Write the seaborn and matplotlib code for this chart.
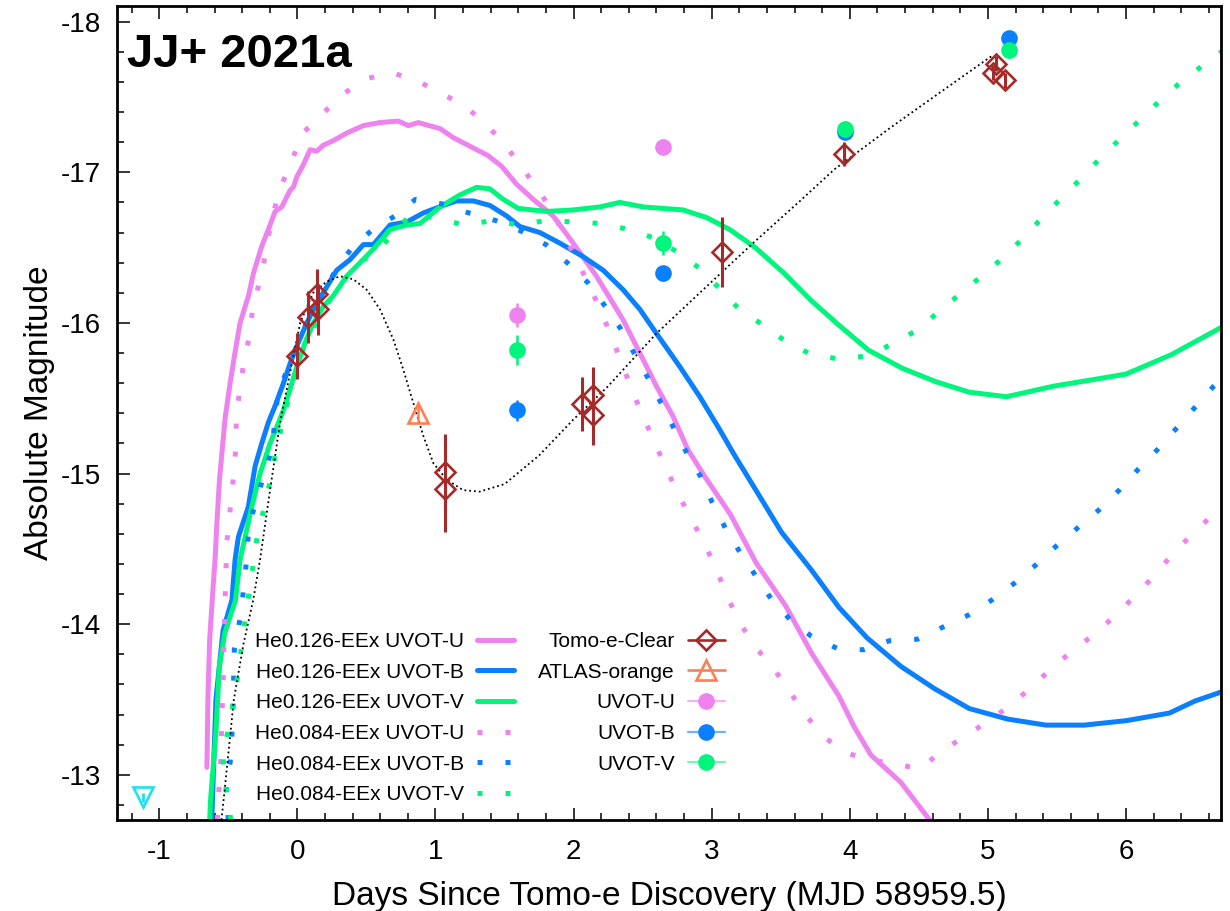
import numpy as np
import pandas as pd
import matplotlib
matplotlib.use("Agg")
import matplotlib.pyplot as plt
from matplotlib.lines import Line2D
from matplotlib.ticker import MultipleLocator, FormatStrFormatter
import seaborn as sns

# ---------------- model light curves (days, absolute mag) ----------------
he126_u_x = [-0.655, -0.648, -0.635, -0.61, -0.596, -0.583, -0.564, -0.54, -0.523, -0.487, -0.456,
             -0.415, -0.354, -0.318, -0.258, -0.21, -0.161, -0.113, -0.053, -0.03, -0.004, 0.043,
             0.092, 0.14, 0.188, 0.26, 0.357, 0.478, 0.598, 0.731, 0.803, 0.876, 1.033, 1.129,
             1.298, 1.382, 1.479, 1.588, 1.708, 1.852, 1.997, 2.166, 2.359, 2.48, 2.60, 2.72,
             2.827, 2.95, 3.135, 3.32, 3.537, 3.722, 3.923, 4.031, 4.154, 4.37, 4.62]
he126_u_y = [-13.05, -13.5, -13.9, -14.25, -14.43, -14.67, -14.96, -15.20, -15.37, -15.60, -15.78,
             -16.0, -16.18, -16.33, -16.51, -16.62, -16.74, -16.77, -16.88, -16.90, -16.97, -17.05,
             -17.15, -17.14, -17.18, -17.21, -17.26, -17.31, -17.33, -17.34, -17.31, -17.33, -17.29, -17.23,
             -17.15, -17.11, -17.04, -16.92, -16.82, -16.71, -16.53, -16.31, -16.02, -15.80, -15.58, -15.38,
             -15.16, -14.98, -14.73, -14.41, -14.12, -13.81, -13.52, -13.32, -13.13, -12.95, -12.65]

he126_b_x = [-0.62, -0.615, -0.59, -0.538, -0.474, -0.451, -0.427, -0.355, -0.306, -0.258, -0.21,
             -0.161, -0.101, -0.053, 0.007, 0.068, 0.14, 0.213, 0.285, 0.381, 0.478, 0.55, 0.671,
             0.792, 0.912, 1.056, 1.153, 1.20, 1.274, 1.394, 1.515, 1.611, 1.756, 1.90, 2.069,
             2.214, 2.359, 2.48, 2.60, 2.769, 2.914, 3.059, 3.16, 3.32, 3.506, 3.722, 3.923, 4.124,
             4.37, 4.617, 4.865, 5.143, 5.42, 5.698, 6.006, 6.315, 6.50, 6.69]
he126_b_y = [-12.70, -12.83, -13.50, -13.96, -14.16, -14.43, -14.58, -14.78, -15.05, -15.20, -15.34,
             -15.45, -15.60, -15.73, -15.87, -16.0, -16.13, -16.24, -16.35, -16.42, -16.52, -16.52, -16.65,
             -16.67, -16.73, -16.78, -16.81, -16.81, -16.81, -16.78, -16.71, -16.64, -16.60, -16.53, -16.44,
             -16.35, -16.22, -16.09, -15.93, -15.71, -15.51, -15.29, -15.13, -14.89, -14.61, -14.36, -14.11, -13.91,
             -13.72, -13.57, -13.44, -13.37, -13.33, -13.33, -13.36, -13.41, -13.49, -13.55]

he126_v_x = [-0.635, -0.629, -0.59, -0.565, -0.526, -0.448, -0.415, -0.378, -0.33, -0.27, -0.198,
             -0.149, -0.101, -0.053, -0.004, 0.056, 0.116, 0.188, 0.26, 0.357, 0.454, 0.55, 0.671,
             0.792, 0.888, 1.033, 1.177, 1.298, 1.394, 1.491, 1.599, 1.805, 1.997, 2.19, 2.335,
             2.504, 2.793, 2.962, 3.131, 3.316, 3.524, 3.719, 3.915, 4.134, 4.378, 4.622, 4.866,
             5.134, 5.476, 6.0, 6.33, 6.69]
he126_v_y = [-12.70, -12.83, -13.28, -13.72, -13.94, -14.16, -14.43, -14.58, -14.78, -15.0, -15.20,
             -15.31, -15.42, -15.56, -15.71, -15.87, -16.0, -16.11, -16.18, -16.31, -16.40, -16.49, -16.62,
             -16.65, -16.66, -16.77, -16.85, -16.90, -16.89, -16.82, -16.76, -16.74, -16.75, -16.77, -16.80,
             -16.77, -16.75, -16.70, -16.62, -16.50, -16.33, -16.15, -15.99, -15.82, -15.70, -15.61, -15.54,
             -15.51, -15.58, -15.66, -15.79, -15.97]

he084_u_x = [-0.58, -0.555, -0.545, -0.538, -0.526, -0.511, -0.499, -0.467, -0.443, -0.443, -0.41,
             -0.39, -0.347, -0.323, -0.258, -0.221, -0.185, -0.113, -0.033, 0.032, 0.087, 0.195,
             0.333, 0.492, 0.687, 0.864, 1.025, 1.199, 1.353, 1.498, 1.619, 1.739, 1.848, 1.937,
             2.033, 2.123, 2.207, 2.282, 2.355, 2.427, 2.509, 2.59, 2.673, 2.759, 2.858, 2.95,
             3.037, 3.114, 3.198, 3.305, 3.438, 3.552, 3.67, 3.793, 3.953, 4.148, 4.334, 4.509,
             4.67, 4.839, 5.012, 5.173, 5.327, 5.476, 5.636, 5.797, 5.945, 6.093, 6.229, 6.362,
             6.506, 6.655, 6.69]
he084_u_y = [-12.70, -13.1, -13.43, -13.61, -14.08, -14.54, -14.65, -14.94, -15.20, -15.39, -15.59,
             -15.73, -15.91, -16.10, -16.33, -16.51, -16.70, -16.92, -17.09, -17.26, -17.30, -17.40,
             -17.52, -17.62, -17.66, -17.61, -17.53, -17.45, -17.33, -17.19, -17.04, -16.89, -16.74, -16.57,
             -16.40, -16.23, -16.06, -15.89, -15.72, -15.54, -15.37, -15.20, -15.03, -14.86, -14.69, -14.53,
             -14.36, -14.18, -14.02, -13.86, -13.72, -13.57, -13.41, -13.27, -13.15, -13.10, -13.07, -13.04,
             -13.16, -13.26, -13.36, -13.47, -13.59, -13.72, -13.84, -13.95, -14.08, -14.21, -14.35, -14.49,
             -14.62, -14.75, -14.78]

he084_b_x = [-0.50, -0.518, -0.487, -0.474, -0.466, -0.461, -0.456, -0.41, -0.366, -0.354, -0.33,
             -0.226, -0.185, -0.142, -0.065, 0.04, 0.15, 0.285, 0.396, 0.545, 0.707, 0.854, 1.049,
             1.242, 1.435, 1.619, 1.80, 1.954, 2.101, 2.221, 2.335, 2.438, 2.535, 2.632, 2.721,
             2.818, 2.92, 3.003, 3.098, 3.203, 3.312, 3.429, 3.568, 3.722, 3.907, 4.099, 4.287,
             4.488, 4.673, 4.858, 5.028, 5.189, 5.343, 5.497, 5.651, 5.806, 5.951, 6.09, 6.229,
             6.365, 6.50, 6.635, 6.69]
he084_b_y = [-12.70, -12.95, -13.08, -13.27, -13.45, -13.65, -13.84, -14.06, -14.44, -14.63, -14.72,
             -15.04, -15.16, -15.53, -15.71, -15.95, -16.15, -16.36, -16.50, -16.62, -16.71, -16.82, -16.79,
             -16.73, -16.68, -16.61, -16.52, -16.40, -16.27, -16.12, -15.97, -15.80, -15.64, -15.47, -15.31,
             -15.14, -14.98, -14.81, -14.64, -14.48, -14.33, -14.17, -14.03, -13.92, -13.84, -13.83, -13.89,
             -13.90, -13.98, -14.06, -14.16, -14.27, -14.39, -14.52, -14.64, -14.76, -14.89, -15.03, -15.16,
             -15.30, -15.44, -15.58, -15.63]

he084_v_x = [-0.482, -0.513, -0.54, -0.448, -0.383, -0.294, -0.226, -0.185, -0.149, -0.053, 0.05,
             0.18, 0.304, 0.422, 0.562, 0.70, 0.832, 1.02, 1.213, 1.414, 1.604, 1.80, 2.0, 2.205,
             2.40, 2.595, 2.769, 2.931, 3.075, 3.211, 3.384, 3.546, 3.724, 3.924, 4.12, 4.308,
             4.483, 4.639, 4.795, 4.954, 5.106, 5.252, 5.394, 5.533, 5.677, 5.82, 5.967, 6.114,
             6.262, 6.411, 6.572, 6.69]
he084_v_y = [-12.70, -12.90, -13.12, -13.55, -14.0, -14.56, -14.83, -15.0, -15.18, -15.54, -15.85,
             -16.08, -16.24, -16.39, -16.46, -16.60, -16.73, -16.69, -16.65, -16.68, -16.65, -16.68, -16.67, -16.66,
             -16.62, -16.56, -16.46, -16.35, -16.21, -16.08, -15.98, -15.87, -15.79, -15.76, -15.78, -15.86,
             -15.95, -16.07, -16.19, -16.31, -16.43, -16.56, -16.70, -16.83, -16.96, -17.10, -17.23, -17.36,
             -17.49, -17.61, -17.72, -17.80]

# ---------------- smooth curve through the Tomo-e photometry ----------------
fit_x = [-0.55, -0.53, -0.46, -0.39, -0.32, -0.27, -0.198, -0.125, -0.053, 0.02, 0.114, 0.213,
         0.309, 0.405, 0.502, 0.598, 0.695, 0.767, 0.839, 0.912, 0.984, 1.081, 1.20, 1.32, 1.50,
         1.75, 2.0, 2.25, 2.6, 2.914, 3.3, 3.64, 3.889, 4.3, 4.7, 5.04]
fit_y = [-12.70, -12.87, -13.50, -13.87, -14.16, -14.43, -14.89, -15.34, -15.67, -16.0, -16.2, -16.275,
         -16.31, -16.29, -16.22, -16.09, -15.89, -15.69, -15.47, -15.25, -15.07, -14.96, -14.89, -14.88, -14.93,
         -15.12, -15.36, -15.58, -15.93, -16.20, -16.53, -16.81, -17.02, -17.30, -17.56, -17.78]

# ---------------- observations ----------------
tomoe_t = [0.0, 0.08, 0.14, 0.152, 1.069, 1.069, 2.058, 2.142, 2.142, 3.078, 3.958, 5.04, 5.056, 5.127]
tomoe_m = [-15.78, -16.04, -16.19, -16.09, -15.01, -14.90, -15.46, -15.52, -15.39, -16.47, -17.12,
           -17.66, -17.72, -17.61]
tomoe_e = [0.15, 0.17, 0.17, 0.17, 0.25, 0.29, 0.18, 0.19, 0.20, 0.23, 0.08, 0.05, 0.05, 0.05]

atlas_t = [0.871]
atlas_m = [-15.40]
atlas_e = [0.05]

uvot_u_t = [1.59, 2.648]
uvot_u_m = [-16.05, -17.17]
uvot_u_e = [0.08, 0.05]
uvot_b_t = [1.59, 2.648, 3.967, 5.153]
uvot_b_m = [-15.42, -16.33, -17.27, -17.89]
uvot_b_e = [0.07, 0.05, 0.05, 0.05]
uvot_v_t = [1.59, 2.648, 3.967, 5.153]
uvot_v_m = [-15.82, -16.53, -17.29, -17.81]
uvot_v_e = [0.10, 0.08, 0.05, 0.05]

limit_t = [-1.117]
limit_m = [-12.85]

model_labels = ["He0.126-EEx UVOT-U", "He0.126-EEx UVOT-B", "He0.126-EEx UVOT-V",
                "He0.084-EEx UVOT-U", "He0.084-EEx UVOT-B", "He0.084-EEx UVOT-V"]
obs_labels = ["Tomo-e-Clear", "ATLAS-orange", "UVOT-U", "UVOT-B", "UVOT-V"]

# ---------------- style ----------------
C_U, C_B, C_V = "#ee82ee", "#0a80ff", "#00f57c"
C_U_LIGHT, C_B_LIGHT, C_V_LIGHT = "#f4b4f4", "#6cb2ff", "#74f8b0"
C_TOMO, C_ATLAS, C_LIM = "#a52a2a", "#ff7f50", "#1ee0f0"
LW = 3.6
DOT = (0, (1, 4.6))

sns.set_theme(style="ticks", rc={
    "axes.edgecolor": "black", "axes.linewidth": 2.0,
    "xtick.color": "black", "ytick.color": "black",
    "text.color": "black", "axes.labelcolor": "black",
})
plt.rcParams["font.family"] = ["Liberation Sans", "DejaVu Sans"]
plt.rcParams["axes.unicode_minus"] = False

W, H = 1230, 911
fig = plt.figure(figsize=(W / 100, H / 100), dpi=100)
ax = fig.add_axes([117.3 / W, (H - 820) / H, (1221 - 117.3) / W, (820 - 6) / H])

models = [
    (he126_u_x, he126_u_y, C_U, "-"), (he126_b_x, he126_b_y, C_B, "-"), (he126_v_x, he126_v_y, C_V, "-"),
    (he084_u_x, he084_u_y, C_U, DOT), (he084_b_x, he084_b_y, C_B, DOT), (he084_v_x, he084_v_y, C_V, DOT),
]
for mx, my, col, ls in models:
    df = pd.DataFrame({"t": mx, "mag": my})
    sns.lineplot(data=df, x="t", y="mag", sort=False, estimator=None, ax=ax,
                 color=col, lw=LW, linestyle=ls, dash_capstyle="butt", zorder=2)

sns.lineplot(data=pd.DataFrame({"t": fit_x, "mag": fit_y}), x="t", y="mag", sort=False,
             estimator=None, ax=ax, color="black", lw=1.3, linestyle=":", zorder=3)

# photometry
ax.errorbar(tomoe_t, tomoe_m, yerr=tomoe_e, fmt="D", ms=10, mfc="none", mec=C_TOMO, mew=1.9,
            ecolor=C_TOMO, elinewidth=2.2, capsize=0, zorder=6)
ax.errorbar(atlas_t, atlas_m, yerr=atlas_e, fmt="^", ms=15, mfc="none", mec=C_ATLAS, mew=1.9,
            ecolor=C_ATLAS, elinewidth=1.8, capsize=0, zorder=6)
ax.errorbar(limit_t, limit_m, yerr=[0.03], fmt="v", ms=14, mfc="none", mec=C_LIM, mew=1.9,
            ecolor=C_LIM, elinewidth=2.0, capsize=0, zorder=6)
for t, m, e, col in [(uvot_u_t, uvot_u_m, uvot_u_e, C_U), (uvot_b_t, uvot_b_m, uvot_b_e, C_B),
                     (uvot_v_t, uvot_v_m, uvot_v_e, C_V)]:
    ax.errorbar(t, m, yerr=e, fmt="o", ms=12, mfc=col, mec=col, mew=0, ecolor=col,
                elinewidth=1.8, capsize=0, zorder=5)

# ---------------- axes ----------------
ax.set_xlim(-1.304, 6.688)
ax.set_ylim(-12.70, -18.104)
ax.xaxis.set_major_locator(MultipleLocator(1))
ax.xaxis.set_minor_locator(MultipleLocator(0.2))
ax.yaxis.set_major_locator(MultipleLocator(1))
ax.yaxis.set_minor_locator(MultipleLocator(0.2))
ax.xaxis.set_major_formatter(FormatStrFormatter("%d"))
ax.yaxis.set_major_formatter(FormatStrFormatter("%d"))
ax.tick_params(which="both", direction="in", top=True, right=False, width=1.1)
ax.tick_params(axis="x", which="major", length=9, labelsize=20, pad=14)
ax.tick_params(axis="y", which="major", length=9, labelsize=20, pad=12)
ax.tick_params(which="minor", length=4.8)
for s in ax.spines.values():
    s.set_linewidth(2.0)
    s.set_color("black")

ax.set_xlabel("Days Since Tomo-e Discovery (MJD 58959.5)", fontsize=24, labelpad=11)
ax.set_ylabel("Absolute Magnitude", fontsize=24, labelpad=4)

ax.text(0.009, 0.925, "JJ+ 2021a", transform=ax.transAxes, fontsize=34, fontweight="bold",
        ha="left", va="baseline", zorder=10)

# ---------------- legends ----------------
model_handles = [Line2D([], [], color=c, lw=LW, linestyle=ls, dash_capstyle="butt")
                 for _, _, c, ls in models]
obs_handles = [
    Line2D([], [], color=C_TOMO, lw=1.9, marker="D", ms=10, mfc="none", mec=C_TOMO, mew=1.9),
    Line2D([], [], color=C_ATLAS, lw=1.9, marker="^", ms=15, mfc="none", mec=C_ATLAS, mew=1.9),
    Line2D([], [], color=C_U_LIGHT, lw=1.6, marker="o", ms=12, mfc=C_U, mec=C_U, mew=0),
    Line2D([], [], color=C_B_LIGHT, lw=1.6, marker="o", ms=12, mfc=C_B, mec=C_B, mew=0),
    Line2D([], [], color=C_V_LIGHT, lw=1.6, marker="o", ms=12, mfc=C_V, mec=C_V, mew=0),
]
leg_kw = dict(loc="upper right", markerfirst=False, frameon=False, fontsize=15,
              handlelength=1.8, handletextpad=0.6, labelspacing=0.56,
              borderpad=0, borderaxespad=0)
ytop = 1 - (632 - 6) / 814
leg1 = ax.legend(model_handles, model_labels, bbox_to_anchor=((514 - 117.3) / 1103.7, ytop), **leg_kw)
ax.add_artist(leg1)
ax.legend(obs_handles, obs_labels, bbox_to_anchor=((725 - 117.3) / 1103.7, ytop), **leg_kw)

fig.savefig("out.png", dpi=100)
